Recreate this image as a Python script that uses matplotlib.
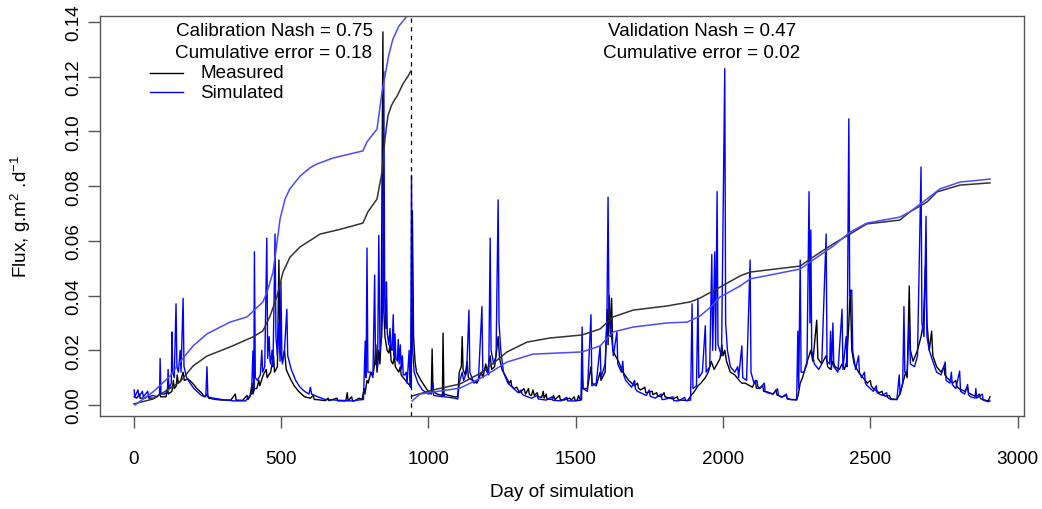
import numpy as np
import matplotlib
matplotlib.use('Agg')
import matplotlib.pyplot as plt
from matplotlib.lines import Line2D

# daily flux, measured (day, g.m-2.d-1)
meas_flux = [
    (2, 0.003), (10, 0.0025), (20, 0.004), (22, 0.0025), (40, 0.0025), (50, 0.0035), (52, 0.0025),
    (70, 0.0025), (90, 0.004), (92, 0.003), (110, 0.003), (115, 0.006), (118, 0.004), (130, 0.005),
    (135, 0.009), (138, 0.006), (145, 0.007), (148, 0.011), (152, 0.008), (160, 0.009), (168, 0.012),
    (172, 0.009), (185, 0.0095), (200, 0.008), (215, 0.006), (230, 0.0045), (240, 0.003), (250, 0.004),
    (255, 0.0025), (280, 0.002), (300, 0.0018), (330, 0.0018), (345, 0.004), (348, 0.0018), (370, 0.0017),
    (385, 0.0035), (388, 0.002), (395, 0.003), (402, 0.008), (405, 0.004), (410, 0.006), (418, 0.006),
    (425, 0.009), (428, 0.007), (440, 0.011), (450, 0.013), (453, 0.010), (465, 0.012), (475, 0.018),
    (478, 0.012), (488, 0.014), (493, 0.053), (497, 0.02), (505, 0.016), (512, 0.02), (518, 0.013),
    (530, 0.010), (545, 0.007), (560, 0.005), (580, 0.003), (600, 0.0025), (610, 0.0035), (613, 0.002),
    (620, 0.002), (650, 0.0016), (660, 0.0025), (663, 0.0016), (690, 0.0025), (693, 0.0015), (700, 0.0015),
    (720, 0.0015), (725, 0.0045), (728, 0.0015), (740, 0.003), (743, 0.0015), (750, 0.0015), (765, 0.0025),
    (775, 0.002), (782, 0.006), (785, 0.004), (792, 0.009), (796, 0.008), (805, 0.012), (812, 0.011),
    (818, 0.015), (822, 0.022), (826, 0.012), (832, 0.02), (836, 0.015), (840, 0.025), (846, 0.1364),
    (849, 0.035), (853, 0.025), (860, 0.02), (866, 0.019), (870, 0.022), (874, 0.016), (880, 0.015),
    (885, 0.018), (888, 0.014), (900, 0.012), (905, 0.014), (908, 0.011), (915, 0.010), (930, 0.008),
    (942, 0.0065), (946, 0.071), (950, 0.025), (955, 0.016), (960, 0.012), (975, 0.009),
    (990, 0.0065), (1000, 0.005), (1010, 0.004), (1013, 0.0205), (1016, 0.005), (1030, 0.004),
    (1048, 0.0035), (1050, 0.0263), (1053, 0.004), (1070, 0.0035), (1090, 0.003), (1100, 0.003),
    (1105, 0.012), (1112, 0.014), (1115, 0.025), (1118, 0.013), (1125, 0.011), (1132, 0.016), (1136, 0.01),
    (1150, 0.009), (1165, 0.008), (1180, 0.012), (1185, 0.010), (1195, 0.015), (1200, 0.012), (1210, 0.018),
    (1215, 0.013), (1225, 0.014), (1232, 0.02), (1237, 0.025), (1242, 0.017), (1250, 0.013), (1260, 0.011),
    (1275, 0.008), (1280, 0.009), (1283, 0.007), (1290, 0.006), (1300, 0.0065), (1310, 0.0045),
    (1325, 0.006), (1330, 0.004), (1340, 0.006), (1343, 0.0038), (1350, 0.0035), (1355, 0.0055),
    (1360, 0.0035), (1370, 0.0045), (1373, 0.003), (1385, 0.0028), (1390, 0.005), (1393, 0.0025),
    (1400, 0.004), (1403, 0.0022), (1420, 0.002), (1425, 0.0035), (1430, 0.002), (1445, 0.0035),
    (1448, 0.0019), (1460, 0.0018), (1480, 0.0025), (1485, 0.0018), (1495, 0.003), (1498, 0.0017),
    (1505, 0.0017), (1510, 0.0035), (1515, 0.002), (1520, 0.002), (1522, 0.012), (1525, 0.006),
    (1540, 0.006), (1552, 0.014), (1556, 0.008), (1570, 0.007), (1583, 0.012), (1586, 0.009), (1600, 0.012),
    (1607, 0.035), (1610, 0.022), (1614, 0.04), (1618, 0.025), (1622, 0.039), (1626, 0.02), (1635, 0.018),
    (1645, 0.016), (1660, 0.012), (1680, 0.009), (1700, 0.007), (1710, 0.008), (1713, 0.0062),
    (1720, 0.0055), (1735, 0.0065), (1738, 0.0045), (1740, 0.0045), (1760, 0.005), (1762, 0.0038),
    (1775, 0.0045), (1778, 0.0033), (1790, 0.003), (1800, 0.0045), (1803, 0.003), (1830, 0.0022),
    (1845, 0.003), (1848, 0.0018), (1860, 0.0018), (1880, 0.0016), (1895, 0.004), (1900, 0.0045),
    (1915, 0.007), (1925, 0.008), (1940, 0.01), (1950, 0.012), (1960, 0.016), (1970, 0.013), (1980, 0.015),
    (1990, 0.017), (1996, 0.022), (2000, 0.018), (2006, 0.02), (2012, 0.016), (2025, 0.012), (2040, 0.011),
    (2055, 0.009), (2064, 0.008), (2075, 0.008), (2092, 0.007), (2100, 0.0065), (2110, 0.009),
    (2113, 0.0062), (2120, 0.006), (2135, 0.007), (2138, 0.005), (2150, 0.0048), (2170, 0.004),
    (2180, 0.0055), (2183, 0.0037), (2200, 0.003), (2215, 0.0035), (2218, 0.0024), (2230, 0.002),
    (2250, 0.002), (2255, 0.0035), (2262, 0.008), (2270, 0.01), (2280, 0.014), (2292, 0.018), (2298, 0.02),
    (2305, 0.016), (2318, 0.031), (2322, 0.017), (2335, 0.015), (2350, 0.018), (2355, 0.014), (2365, 0.013),
    (2373, 0.016), (2380, 0.014), (2395, 0.013), (2404, 0.015), (2412, 0.013), (2420, 0.016), (2427, 0.030),
    (2432, 0.042), (2437, 0.02), (2445, 0.015), (2460, 0.012), (2475, 0.01), (2490, 0.008), (2500, 0.009),
    (2503, 0.007), (2510, 0.006), (2530, 0.0045), (2540, 0.005), (2543, 0.0038), (2550, 0.0032),
    (2565, 0.0035), (2568, 0.0025), (2575, 0.0022), (2590, 0.002), (2600, 0.004), (2610, 0.008),
    (2620, 0.012), (2625, 0.01), (2632, 0.0435), (2636, 0.02), (2645, 0.016), (2660, 0.02), (2672, 0.025),
    (2680, 0.03), (2687, 0.051), (2692, 0.03), (2700, 0.02), (2708, 0.027), (2712, 0.018), (2725, 0.014),
    (2740, 0.012), (2750, 0.014), (2753, 0.011), (2760, 0.01), (2780, 0.008), (2790, 0.009), (2793, 0.007),
    (2800, 0.006), (2820, 0.005), (2830, 0.0065), (2833, 0.0045), (2840, 0.004), (2860, 0.003),
    (2870, 0.004), (2873, 0.0025), (2880, 0.002), (2900, 0.0015), (2906, 0.003),
]

# daily flux, simulated
sim_flux = [
    (2, 0.0055), (4, 0.003), (15, 0.0055), (18, 0.003), (30, 0.005), (33, 0.003), (48, 0.005), (51, 0.003),
    (65, 0.0035), (80, 0.003), (88, 0.004), (90, 0.017), (93, 0.004), (105, 0.004), (115, 0.005),
    (117, 0.013), (120, 0.006), (128, 0.008), (130, 0.0267), (133, 0.012), (138, 0.01), (144, 0.037),
    (147, 0.014), (152, 0.012), (158, 0.02), (161, 0.012), (168, 0.039), (171, 0.014), (180, 0.01),
    (195, 0.0075), (205, 0.006), (215, 0.005), (230, 0.0035), (245, 0.003), (249, 0.014), (252, 0.003),
    (270, 0.0025), (300, 0.002), (340, 0.0015), (380, 0.0015), (395, 0.0035), (400, 0.004), (405, 0.0198),
    (408, 0.006), (410, 0.056), (413, 0.01), (420, 0.009), (430, 0.011), (435, 0.02), (438, 0.012),
    (445, 0.014), (452, 0.061), (455, 0.017), (460, 0.025), (463, 0.016), (465, 0.015), (470, 0.02),
    (473, 0.014), (480, 0.0625), (483, 0.025), (488, 0.018), (493, 0.03), (497, 0.016), (500, 0.045),
    (503, 0.018), (505, 0.015), (512, 0.02), (520, 0.035), (523, 0.018), (535, 0.013), (550, 0.009),
    (565, 0.0065), (580, 0.005), (595, 0.004), (600, 0.0065), (604, 0.004), (625, 0.003), (650, 0.002),
    (700, 0.0017), (740, 0.0015), (760, 0.0018), (780, 0.002), (786, 0.0234), (789, 0.01), (792, 0.0574),
    (795, 0.012), (805, 0.012), (812, 0.01), (818, 0.0475), (821, 0.015), (828, 0.014), (832, 0.062),
    (836, 0.02), (842, 0.025), (845, 0.035), (849, 0.122), (852, 0.04), (856, 0.028), (858, 0.045),
    (861, 0.026), (866, 0.022), (870, 0.028), (873, 0.021), (877, 0.02), (881, 0.033), (884, 0.018),
    (887, 0.026), (890, 0.017), (895, 0.016), (898, 0.024), (901, 0.015), (905, 0.022), (908, 0.013),
    (912, 0.018), (915, 0.011), (920, 0.011), (925, 0.012), (928, 0.008), (935, 0.02), (938, 0.007),
    (940, 0.0065), (943, 0.084), (947, 0.02), (952, 0.012), (965, 0.008), (980, 0.0055), (1000, 0.004),
    (1013, 0.0045), (1015, 0.008), (1018, 0.0035), (1050, 0.003), (1052, 0.005), (1055, 0.003),
    (1090, 0.0025), (1100, 0.0022), (1105, 0.008), (1110, 0.01), (1115, 0.012), (1120, 0.009),
    (1130, 0.012), (1138, 0.0347), (1141, 0.012), (1155, 0.008), (1170, 0.009), (1182, 0.036),
    (1185, 0.012), (1195, 0.013), (1205, 0.011), (1210, 0.061), (1213, 0.02), (1222, 0.015), (1230, 0.018),
    (1237, 0.075), (1240, 0.03), (1246, 0.02), (1255, 0.012), (1270, 0.008), (1290, 0.006), (1305, 0.0045),
    (1315, 0.0055), (1318, 0.004), (1325, 0.0035), (1350, 0.0025), (1370, 0.0035), (1373, 0.0022),
    (1400, 0.0018), (1420, 0.003), (1423, 0.0017), (1450, 0.0015), (1470, 0.0028), (1473, 0.0015),
    (1500, 0.0015), (1518, 0.0018), (1522, 0.0285), (1525, 0.006), (1540, 0.005), (1552, 0.033),
    (1555, 0.007), (1570, 0.008), (1583, 0.0216), (1586, 0.01), (1600, 0.015), (1606, 0.03), (1610, 0.076),
    (1613, 0.035), (1617, 0.03), (1622, 0.025), (1628, 0.018), (1640, 0.0267), (1643, 0.015), (1655, 0.012),
    (1660, 0.016), (1663, 0.011), (1670, 0.009), (1690, 0.0065), (1700, 0.009), (1703, 0.0058),
    (1710, 0.005), (1740, 0.0035), (1750, 0.0055), (1753, 0.0032), (1770, 0.0025), (1790, 0.004),
    (1793, 0.002), (1800, 0.002), (1830, 0.003), (1833, 0.0016), (1850, 0.0015), (1870, 0.0028),
    (1873, 0.0016), (1890, 0.0018), (1895, 0.037), (1898, 0.006), (1910, 0.007), (1915, 0.039), (1918, 0.01),
    (1930, 0.012), (1940, 0.029), (1943, 0.012), (1955, 0.014), (1962, 0.055), (1965, 0.02), (1972, 0.056),
    (1975, 0.02), (1980, 0.078), (1983, 0.022), (1995, 0.018), (2006, 0.123), (2009, 0.03), (2015, 0.02),
    (2025, 0.014), (2040, 0.012), (2050, 0.014), (2053, 0.01), (2064, 0.0216), (2067, 0.01), (2080, 0.009),
    (2092, 0.053), (2095, 0.012), (2105, 0.008), (2115, 0.009), (2118, 0.0068), (2125, 0.006),
    (2140, 0.008), (2143, 0.005), (2150, 0.0045), (2170, 0.004), (2185, 0.006), (2188, 0.0035),
    (2200, 0.0028), (2215, 0.004), (2218, 0.0022), (2230, 0.002), (2250, 0.0018), (2254, 0.027),
    (2257, 0.006), (2262, 0.053), (2265, 0.012), (2275, 0.012), (2285, 0.015), (2292, 0.078), (2295, 0.03),
    (2298, 0.064), (2301, 0.02), (2310, 0.015), (2325, 0.013), (2335, 0.015), (2350, 0.0625), (2353, 0.016),
    (2362, 0.015), (2365, 0.027), (2368, 0.013), (2373, 0.030), (2376, 0.014), (2390, 0.012), (2404, 0.035),
    (2407, 0.013), (2418, 0.025), (2421, 0.014), (2427, 0.1046), (2430, 0.04), (2437, 0.042), (2440, 0.02),
    (2450, 0.013), (2460, 0.018), (2463, 0.012), (2470, 0.01), (2480, 0.012), (2483, 0.008), (2490, 0.007),
    (2510, 0.005), (2520, 0.007), (2523, 0.0045), (2540, 0.0035), (2555, 0.0045), (2558, 0.0028),
    (2570, 0.002), (2590, 0.002), (2598, 0.011), (2601, 0.004), (2610, 0.008), (2614, 0.036), (2617, 0.012),
    (2625, 0.012), (2632, 0.03), (2636, 0.015), (2650, 0.014), (2660, 0.018), (2672, 0.087), (2675, 0.03),
    (2682, 0.025), (2689, 0.069), (2692, 0.025), (2700, 0.02), (2712, 0.016), (2725, 0.012), (2740, 0.011),
    (2754, 0.0157), (2757, 0.009), (2770, 0.008), (2775, 0.012), (2778, 0.0075), (2790, 0.006),
    (2803, 0.0124), (2806, 0.005), (2820, 0.004), (2830, 0.0075), (2833, 0.0038), (2840, 0.003),
    (2855, 0.0025), (2858, 0.006), (2861, 0.0025), (2880, 0.004), (2883, 0.0018), (2900, 0.0012),
    (2906, 0.0015),
]

# cumulative flux curves, calibration period
cal_meas_cum = [
    (1, 0.0004), (66, 0.0022), (157, 0.0084), (202, 0.0143), (249, 0.0179), (327, 0.0212), (405, 0.0249),
    (439, 0.0271), (463, 0.0325), (487, 0.0399), (507, 0.0486), (531, 0.0541), (565, 0.0578),
    (633, 0.0625), (700, 0.0642), (778, 0.0665), (795, 0.0706), (826, 0.0753), (843, 0.0852),
    (853, 0.0972), (863, 0.1057), (875, 0.1095), (885, 0.1115), (894, 0.1129), (914, 0.1174),
    (930, 0.1200), (941, 0.1221),
]
cal_sim_cum = [
    (5, 0.0), (66, 0.0048), (124, 0.0106), (157, 0.0157), (202, 0.0216), (249, 0.0260), (327, 0.0303),
    (385, 0.0322), (439, 0.0377), (455, 0.0420), (473, 0.0486), (485, 0.0580), (497, 0.0680),
    (514, 0.0753), (530, 0.0790), (565, 0.0837), (600, 0.0868), (622, 0.0881), (677, 0.0903),
    (778, 0.0929), (792, 0.0962), (826, 0.1009), (843, 0.1144), (853, 0.1203), (866, 0.1280),
    (880, 0.1338), (900, 0.1385), (928, 0.1422), (941, 0.1470),
]

# cumulative flux curves, validation period
val_meas_cum = [
    (945, 0.0033), (1016, 0.0055), (1108, 0.0077), (1185, 0.0121), (1267, 0.0194), (1335, 0.0230),
    (1413, 0.0245), (1522, 0.0256), (1583, 0.0278), (1627, 0.0322), (1695, 0.0347), (1810, 0.0362),
    (1889, 0.0377), (1922, 0.0391), (1990, 0.0431), (2058, 0.0472), (2092, 0.0486), (2262, 0.0508),
    (2296, 0.0534), (2374, 0.0589), (2431, 0.0625), (2488, 0.0662), (2600, 0.0676), (2634, 0.0706),
    (2692, 0.0742), (2726, 0.0779), (2804, 0.0804), (2906, 0.0812),
]
val_sim_cum = [
    (945, 0.0015), (972, 0.0040), (1040, 0.0051), (1108, 0.0062), (1185, 0.0102), (1267, 0.0157),
    (1355, 0.0186), (1522, 0.0194), (1583, 0.0216), (1627, 0.0267), (1695, 0.0285), (1810, 0.0300),
    (1878, 0.0303), (1922, 0.0325), (1960, 0.0360), (1990, 0.0395), (2058, 0.0435), (2092, 0.0461),
    (2262, 0.0497), (2296, 0.0523), (2374, 0.0581), (2431, 0.0632), (2488, 0.0665), (2600, 0.0687),
    (2634, 0.0706), (2692, 0.0753), (2736, 0.0790), (2804, 0.0815), (2906, 0.0826),
]

split_day = 943
cal_text = ['Calibration Nash = 0.75', 'Cumulative error = 0.18']
val_text = ['Validation Nash = 0.47', 'Cumulative error = 0.02']
legend_labels = ['Measured', 'Simulated']

plt.rcParams['font.family'] = ['Liberation Sans', 'DejaVu Sans']
plt.rcParams['mathtext.fontset'] = 'custom'
plt.rcParams['mathtext.rm'] = 'Liberation Sans'
plt.rcParams['mathtext.it'] = 'Liberation Sans:italic'
plt.rcParams['mathtext.default'] = 'regular'
fs = 13.6
W, H = 1042, 510

fig = plt.figure(figsize=(W / 100, H / 100), dpi=100)
ax = fig.add_axes([100 / W, 1 - 417.3 / H, 923.5 / W, 400.8 / H])

def xy(pairs):
    a = np.array(sorted(pairs)).T
    return a[0], a[1]

d, v = xy(meas_flux)
ax.plot(d, v, color='black', lw=1.0)
d, v = xy(sim_flux)
ax.plot(d, v, color='#0000ff', lw=1.0)
for pairs, col in [(cal_meas_cum, '#333333'), (cal_sim_cum, '#4a4aff'),
                   (val_meas_cum, '#333333'), (val_sim_cum, '#4a4aff')]:
    d, v = xy(pairs)
    ax.plot(d, v, color=col, lw=1.1)

ax.axvline(split_day, color='black', lw=0.9, dashes=(3.5, 3.5))

ax.set_xlim(-114, 3019.7)
ax.set_ylim(-0.00413, 0.1424)
ax.set_xticks(np.arange(0, 3001, 500))
ax.set_yticks(np.arange(0, 0.141, 0.02))
ax.set_yticklabels(['%.2f' % t for t in np.arange(0, 0.141, 0.02)], rotation=90, va='center')
for s in ax.spines.values():
    s.set_color('#555555')
    s.set_linewidth(1.0)
ax.tick_params(axis='both', length=8.5, width=1.0, color='#555555', labelsize=fs)
ax.tick_params(axis='x', pad=16)
ax.tick_params(axis='y', pad=4)

fig.text(561.5 / W, 1 - 493 / H, 'Day of simulation', fontsize=fs, ha='center', va='center')
fig.text(21 / W, 1 - 216.5 / H, 'Flux, g.m$^{2}$ .d$^{-1}$', fontsize=fs,
         rotation=90, ha='center', va='center')

# annotation text blocks
for (cx, lines) in [(274, cal_text), (702, val_text)]:
    for i, t in enumerate(lines):
        fig.text(cx / W, 1 - (31 + 23 * i) / H, t, fontsize=fs, ha='center', va='center')

# legend, no frame
for i, (lab, col) in enumerate(zip(legend_labels, ['black', '#0000ff'])):
    y = 1 - (74 + 19 * i) / H
    fig.add_artist(Line2D([150 / W, 183 / W], [y, y], color=col, lw=1.0))
    fig.text(200 / W, y, lab, fontsize=fs, ha='left', va='center')

fig.savefig('out.png', dpi=100)
